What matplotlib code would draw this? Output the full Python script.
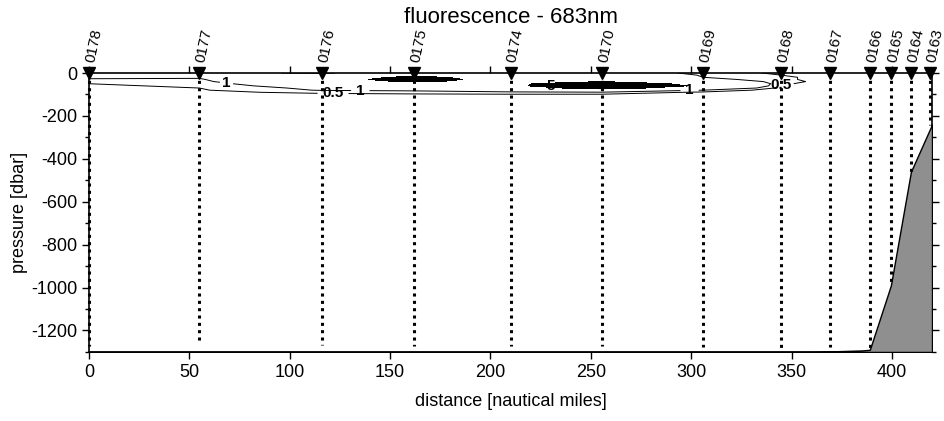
import numpy as np
import matplotlib
matplotlib.use("Agg")
import matplotlib.pyplot as plt
from matplotlib.ticker import MultipleLocator

plt.rcParams['font.family'] = ['Liberation Sans', 'DejaVu Sans']
plt.rcParams['axes.unicode_minus'] = False

# ---- data ----
station_names = ["0178", "0177", "0176", "0175", "0174", "0170", "0169",
                 "0168", "0167", "0166", "0165", "0164", "0163"]
station_dist = [0, 55, 116, 162, 210, 255.5, 306, 345, 369, 389, 399.5, 409.5, 419]
cast_depth = [-1270, -1263, -1267, -1270, -1270, -1272, -1277,
              -1286, -1277, -1290, -990, -460, -240]

bathy_dist = [0, 360, 385, 389, 399.5, 409.5, 420]
bathy_depth = [-1300, -1300, -1293, -1290, -990, -460, -240]

# fluorescence profiles (rows = depth levels, columns = stations)
fl_depth = [0, -10, -20, -30, -40, -50, -60, -70, -80, -90, -100, -150]
fl_0 = [1.5, 1.2, 0.9, 1.6, 1.4, 1.6, 0.8, 0.4, 0.3, 0.2, 0.2, 0.2, 0.2]
fl_10 = [1.4, 1.3, 1.4, 3.0, 2.0, 2.5, 0.9, 0.5, 0.3, 0.2, 0.2, 0.2, 0.2]
fl_20 = [1.2, 1.1, 2.0, 5.5, 2.6, 3.0, 1.0, 0.6, 0.3, 0.2, 0.2, 0.2, 0.2]
fl_30 = [0.9, 0.9, 3.0, 6.0, 3.0, 3.5, 1.3, 0.6, 0.3, 0.2, 0.2, 0.2, 0.2]
fl_40 = [0.6, 0.8, 2.5, 5.0, 3.2, 4.5, 2.0, 0.7, 0.3, 0.2, 0.2, 0.2, 0.2]
fl_50 = [0.5, 0.7, 1.8, 2.2, 3.9, 6.5, 3.5, 0.6, 0.2, 0.2, 0.2, 0.2, 0.2]
fl_60 = [0.4, 0.6, 1.5, 1.7, 3.9, 7.0, 4.0, 0.4, 0.2, 0.2, 0.2, 0.2, 0.2]
fl_70 = [0.35, 0.5, 1.2, 1.3, 2.5, 6.0, 2.5, 0.3, 0.2, 0.2, 0.2, 0.2, 0.2]
fl_80 = [0.3, 0.45, 1.05, 1.1, 1.4, 2.5, 1.0, 0.2, 0.2, 0.1, 0.1, 0.1, 0.1]
fl_90 = [0.25, 0.4, 0.6, 0.8, 0.9, 0.9, 0.4, 0.2, 0.1, 0.1, 0.1, 0.1, 0.1]
fl_100 = [0.2, 0.2, 0.4, 0.4, 0.45, 0.45, 0.2, 0.1, 0.1, 0.1, 0.1, 0.1, 0.1]
fl_150 = [0.1] * 13
contour_levels = [0.5, 1, 5]

xticks = [0, 50, 100, 150, 200, 250, 300, 350, 400]
yticks = [0, -200, -400, -600, -800, -1000, -1200]

# ---- figure ----
fig = plt.figure(figsize=(9.44, 4.21), dpi=100)
ax = fig.add_axes([0.0943, 0.164, 0.893, 0.6626])

F = np.array([fl_0, fl_10, fl_20, fl_30, fl_40, fl_50, fl_60, fl_70,
              fl_80, fl_90, fl_100, fl_150])
X, Y = np.meshgrid(station_dist, fl_depth)

ax.contourf(X, Y, F, levels=[4.5, 100], colors=['black'])
label_pos = {0.5: [(122, -86), (337, -50)],
             1: [(70, -45), (135, -86), (299, -80)],
             5: [(227, -68)]}
for lev in contour_levels:
    cs = ax.contour(X, Y, F, levels=[lev], colors='black', linewidths=0.7)
    txts = ax.clabel(cs, fmt={lev: ('%g' % lev)}, fontsize=11, inline=True,
                     manual=label_pos[lev])
    for t in txts:
        t.set_rotation(0)
        t.set_fontweight('bold')

# bathymetry
ax.fill_between(bathy_dist, bathy_depth, -1300, facecolor='#8f8f8f',
                edgecolor='black', linewidth=1.0, zorder=3)

# station casts
for x, d in zip(station_dist, cast_depth):
    ax.plot([x, x], [0, d], color='black', linestyle=(0, (1, 1.4)),
            linewidth=2.2, zorder=4, clip_on=False)
ax.plot(station_dist, [0] * len(station_dist), 'v', color='black',
        markersize=9, zorder=5, clip_on=False)
for x, name in zip(station_dist, station_names):
    ax.annotate(name, xy=(x, 0), xytext=(1, 8), textcoords='offset points',
                rotation=78, rotation_mode='anchor', ha='left', va='center',
                fontsize=11, annotation_clip=False)

ax.set_xlim(0, 420)
ax.set_ylim(-1300, 0)
ax.set_xticks(xticks)
ax.set_yticks(yticks)
ax.yaxis.set_minor_locator(MultipleLocator(100))
ax.tick_params(axis='both', which='major', direction='out', length=5,
               width=1, labelsize=13, top=True, right=True)
ax.tick_params(axis='y', which='minor', direction='out', length=3,
               width=1, right=True, left=True)
for s in ax.spines.values():
    s.set_linewidth(1.2)

ax.set_xlabel('distance [nautical miles]', fontsize=13, labelpad=9)
ax.set_ylabel('pressure [dbar]', fontsize=13, labelpad=2)
ax.set_title('fluorescence - 683nm', fontsize=16, pad=36)

fig.savefig('out.png', dpi=100)
